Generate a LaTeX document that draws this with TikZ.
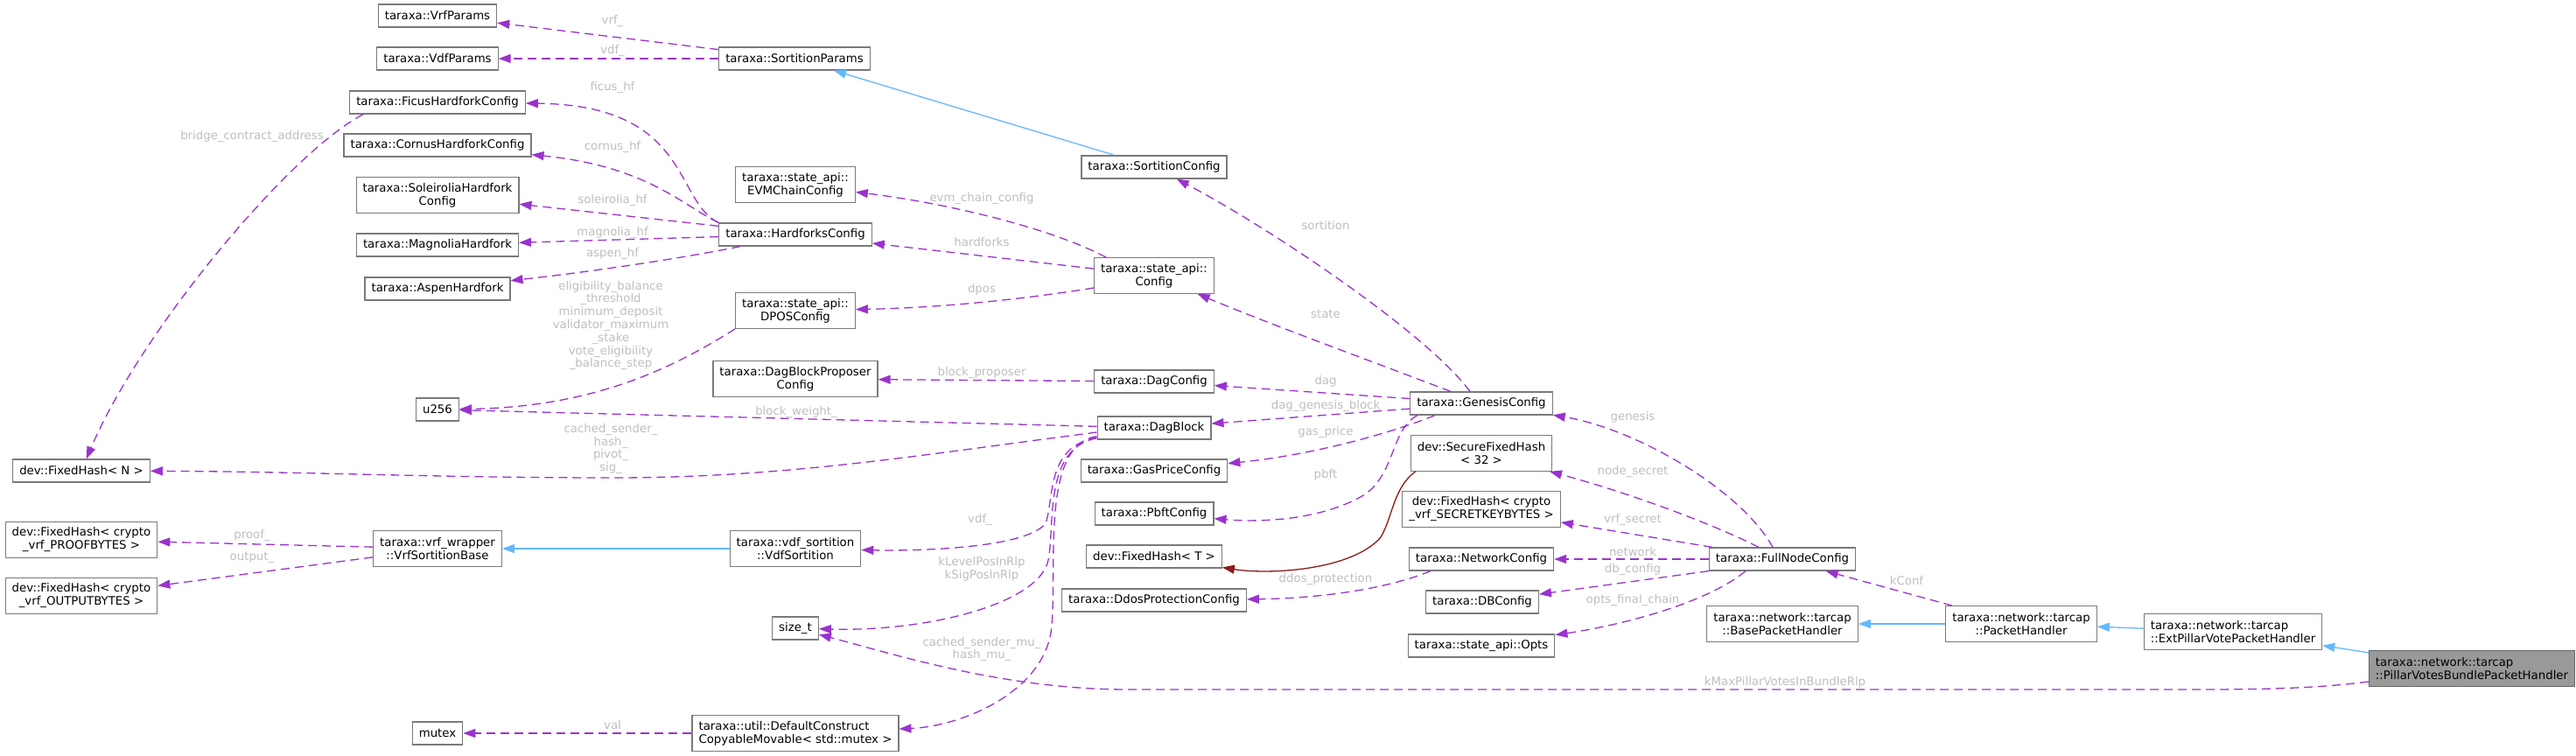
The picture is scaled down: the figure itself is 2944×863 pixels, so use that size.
\documentclass[tikz,border=0pt]{standalone}
\usepackage{fontspec}
\setmainfont{DejaVu Sans}
\usetikzlibrary{arrows.meta}
\definecolor{usecol}{HTML}{9A32CD}
\definecolor{inhcol}{HTML}{63B8FF}
\definecolor{tplcol}{HTML}{8B1A1A}
\definecolor{boxcol}{HTML}{7A7A7A}
\definecolor{labcol}{HTML}{BEBEBE}
\begin{document}
\begin{tikzpicture}[x=1pt,y=-1pt,
  cls/.style={draw=boxcol,line width=1.2pt,fill=white,inner xsep=7.5pt,inner ysep=0pt,minimum height=26pt,font=\fontsize{13.3}{15}\selectfont},
  cls2/.style={cls,minimum height=40.5pt,align=center},
  lab/.style={text=labcol,inner sep=0pt,align=center,font=\fontsize{13.3}{14.8}\selectfont},
  memb/.style={usecol,line width=1.3pt,dash pattern=on 10pt off 6pt,-{Triangle[length=14pt,width=10pt]}},
  inherit/.style={inhcol,line width=1.3pt,-{Triangle[length=14pt,width=10pt]}},
  templ/.style={tplcol,line width=1.3pt,-{Triangle[length=14pt,width=10pt]}}]
\useasboundingbox (0,0) rectangle (2944,863);
\node[cls] (vrfp) at (500,18) {taraxa::VrfParams};
\node[cls] (vdfp) at (500,67) {taraxa::VdfParams};
\node[cls] (sortp) at (908,67) {taraxa::SortitionParams};
\node[cls] (ficus) at (500,117) {taraxa::FicusHardforkConfig};
\node[cls] (cornus) at (500,166) {taraxa::CornusHardforkConfig};
\node[cls2] (soleir) at (500,223) {taraxa::SoleiroliaHardfork\\Config};
\node[cls] (magnolia) at (500,280) {taraxa::MagnoliaHardfork};
\node[cls] (aspen) at (500,330) {taraxa::AspenHardfork};
\node[cls] (u256) at (500,468) {u256};
\node[cls] (fhn) at (93,538) {dev::FixedHash< N >};
\node[cls2] (fhproof) at (93,617) {dev::FixedHash< crypto\\\_vrf\_PROOFBYTES >};
\node[cls2] (fhout) at (93,681) {dev::FixedHash< crypto\\\_vrf\_OUTPUTBYTES >};
\node[cls2] (vrfbase) at (500,627) {taraxa::vrf\_wrapper\\::VrfSortitionBase};
\node[cls] (mutex) at (500,838) {mutex};
\node[cls2] (evm) at (909,211) {taraxa::state\_api::\\EVMChainConfig};
\node[cls] (hardforks) at (909,268) {taraxa::HardforksConfig};
\node[cls2] (dpos) at (909,355) {taraxa::state\_api::\\DPOSConfig};
\node[cls2] (proposer) at (909,433) {taraxa::DagBlockProposer\\Config};
\node[cls2] (vdfsort) at (909,627) {taraxa::vdf\_sortition\\::VdfSortition};
\node[cls] (sizet) at (909,718) {size\_t};
\node[cls2,align=left] (defcons) at (909,838) {taraxa::util::DefaultConstruct\\CopyableMovable< std::mutex >};
\node[cls] (sortcfg) at (1319,191) {taraxa::SortitionConfig};
\node[cls2] (stcfg) at (1319,315) {taraxa::state\_api::\\Config};
\node[cls] (dagcfg) at (1319,436) {taraxa::DagConfig};
\node[cls] (dagblock) at (1319,489) {taraxa::DagBlock};
\node[cls] (gasprice) at (1319,538) {taraxa::GasPriceConfig};
\node[cls] (pbft) at (1319,587) {taraxa::PbftConfig};
\node[cls] (fht) at (1319,636) {dev::FixedHash< T >};
\node[cls] (ddos) at (1319,686) {taraxa::DdosProtectionConfig};
\node[cls] (genesis) at (1693,461) {taraxa::GenesisConfig};
\node[cls2] (secure) at (1693,518) {dev::SecureFixedHash\\< 32 >};
\node[cls2] (fhsecret) at (1693,582) {dev::FixedHash< crypto\\\_vrf\_SECRETKEYBYTES >};
\node[cls] (network) at (1693,639) {taraxa::NetworkConfig};
\node[cls] (dbcfg) at (1694,688) {taraxa::DBConfig};
\node[cls] (opts) at (1693,738) {taraxa::state\_api::Opts};
\node[cls] (fullnode) at (2037,639) {taraxa::FullNodeConfig};
\node[cls2] (basepkt) at (2037,713) {taraxa::network::tarcap\\::BasePacketHandler};
\node[cls2] (pkt) at (2310,713) {taraxa::network::tarcap\\::PacketHandler};
\node[cls2,align=left] (extpkt) at (2552,722) {taraxa::network::tarcap\\::ExtPillarVotePacketHandler};
\node[cls2,align=left,fill=black!40,draw=black!60] (bundle) at (2825,764) {taraxa::network::tarcap\\::PillarVotesBundlePacketHandler};
% edge labels
\foreach \nm/\px/\py/\txt in {vrf/700/24/vrf\_, vdf/700/58/vdf\_, ficus/700/100/ficus\_hf, cornus/700/168/cornus\_hf,
  soleir/700/229/soleirolia\_hf, magnolia/700/266/magnolia\_hf, aspen/700/290/aspen\_hf,
  bridge/288/156/bridge\_contract\_address,
  elig/698/372/eligibility\_balance\\\_threshold\\minimum\_deposit\\validator\_maximum\\\_stake\\vote\_eligibility\\\_balance\_step,
  weight/910/471/block\_weight\_, sender/698/513/cached\_sender\_\\hash\_\\pivot\_\\sig\_,
  evm/1122/227/evm\_chain\_config, hardforks/1122/277/hardforks, dpos/1122/331/dpos, proposer/1122/426/block\_proposer,
  sortition/1515/258/sortition, state/1515/359/state, dag/1515/436/dag, genblock/1515/464/dag\_genesis\_block,
  gas/1515/494/gas\_price, pbft/1515/543/pbft, vdfs/1120/594/vdf\_, klevel/1122/650/kLevelPosInRlp\\kSigPosInRlp,
  mu/1122/742/cached\_sender\_mu\_\\hash\_mu\_, proof/288/612/proof\_, output/288/637/output\_, val/700/829/val,
  genesis/1866/477/genesis, nodesecret/1866/539/node\_secret, vrfsecret/1866/594/vrf\_secret, network/1866/631/network,
  db/1866/651/db\_config, opts/1866/686/opts\_final\_chain, ddos/1515/662/ddos\_protection, kconf/2179/664/kConf,
  kmax/2040/780/kMaxPillarVotesInBundleRlp}
  \node[lab] (l\nm) at (\px,\py) {\txt};
% sortition and hardforks
\draw[memb] (sortp) -- (vrfp);
\draw[memb] (sortp) -- (vdfp);
\draw[inherit] (sortcfg) -- (sortp);
\draw[memb] (hardforks.north west) .. controls (770,230) and (790,120) .. (ficus);
\draw[memb] (hardforks.north west) .. controls (780,235) and (740,190) .. (cornus);
\draw[memb] (hardforks) -- (soleir);
\draw[memb] (hardforks) -- (magnolia);
\draw[memb] ([xshift=25pt]hardforks.south west) .. controls (780,295) and (680,310) .. (aspen);
\draw[memb] ([xshift=16pt]ficus.south west) .. controls (330,175) and (160,380) .. (fhn);
% state api
\draw[memb] ([xshift=14pt]stcfg.north west) .. controls (1200,260) and (1080,232) .. (evm);
\draw[memb] (stcfg) -- (hardforks);
\draw[memb] ([yshift=-14pt]stcfg.west) .. controls (1150,345) and (1060,352) .. (dpos);
\draw[memb] (dpos.south west) .. controls (770,420) and (680,465) .. (u256);
% dag block
\draw[memb] (dagblock) -- (u256);
\draw[memb] ([yshift=-5pt]dagblock.west) .. controls (1050,520) and (900,546) .. (700,546) .. controls (500,546) and (350,539) .. (fhn);
\draw[memb] (dagcfg) -- (proposer);
\draw[memb] (dagblock) .. controls (1195,510) and (1205,570) .. (1195,598) .. controls (1175,625) and (1060,630) .. (vdfsort);
\draw[memb] (dagblock) .. controls (1192,512) and (1206,600) .. (1198,640) .. controls (1188,690) and (1060,722) .. (sizet);
\draw[memb] (dagblock) .. controls (1190,508) and (1208,640) .. (1202,715) .. controls (1196,790) and (1100,830) .. (defcons);
\draw[inherit] (vdfsort) -- (vrfbase);
\draw[memb] (vrfbase) -- (fhproof);
\draw[memb] (vrfbase) -- (fhout);
\draw[memb] (defcons) -- (mutex);
% genesis
\draw[memb] ([xshift=-13pt]genesis.north) .. controls (1630,380) and (1450,260) .. (sortcfg);
\draw[memb] ([xshift=-35pt]genesis.north) .. controls (1560,410) and (1450,370) .. (stcfg);
\draw[memb] (genesis) -- (dagcfg);
\draw[memb] (genesis) -- (dagblock);
\draw[memb] ([xshift=-53pt]genesis.south) .. controls (1590,495) and (1500,520) .. (gasprice);
\draw[memb] ([xshift=-73pt]genesis.south) .. controls (1590,490) and (1595,540) .. (1560,565) .. controls (1510,595) and (1440,597) .. (pbft);
\draw[templ] ([xshift=6pt]secure.south west) .. controls (1592,558) and (1592,590) .. (1578,614) .. controls (1545,652) and (1450,657) .. (fht);
% full node config
\draw[memb] ([xshift=-11pt]fullnode.north) .. controls (1990,560) and (1870,490) .. (genesis);
\draw[memb] ([xshift=-27pt]fullnode.north) .. controls (1950,595) and (1850,560) .. (secure);
\draw[memb] ([xshift=-80pt]fullnode.north) -- (fhsecret);
\draw[memb] (fullnode) -- (network);
\draw[memb] (fullnode.south west) -- (dbcfg);
\draw[memb] ([xshift=-42pt]fullnode.south) .. controls (1950,690) and (1850,715) .. (opts);
\draw[memb] ([xshift=-58pt]network.south) .. controls (1580,675) and (1500,684) .. (ddos);
% packet handlers
\draw[memb] ([xshift=-79pt]pkt.north) -- (fullnode);
\draw[inherit] (pkt) -- (basepkt);
\draw[inherit] (extpkt) -- (pkt);
\draw[inherit] (bundle) -- (extpkt);
\draw[memb] ([yshift=-15pt]bundle.west) .. controls (2640,788) and (2560,788) .. (2500,788) -- (1290,788) .. controls (1150,788) and (1030,750) .. (sizet);
\end{tikzpicture}
\end{document}
